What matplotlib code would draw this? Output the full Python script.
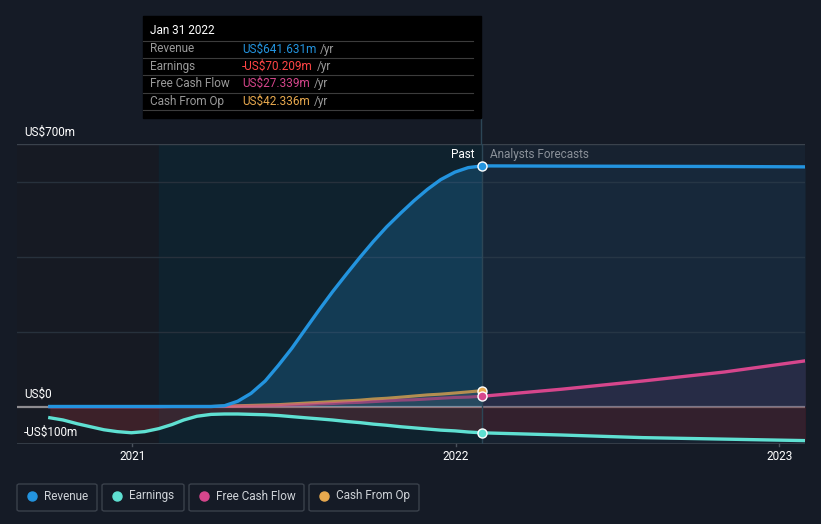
import numpy as np
import pandas as pd
import matplotlib.pyplot as plt
from matplotlib.patches import Rectangle, FancyBboxPatch

plt.rcParams['font.family'] = ['Roboto', 'DejaVu Sans']

# data (US$ millions)
past_dates = ['2020-09-30', '2020-10-15', '2020-10-31', '2020-11-15', '2020-11-30',
              '2020-12-15', '2020-12-31', '2021-01-15', '2021-01-31', '2021-02-15',
              '2021-02-28', '2021-03-15', '2021-03-31', '2021-04-15', '2021-04-30',
              '2021-05-15', '2021-05-31', '2021-06-15', '2021-06-30', '2021-07-15',
              '2021-07-31', '2021-08-15', '2021-08-31', '2021-09-15', '2021-09-30',
              '2021-10-15', '2021-10-31', '2021-11-15', '2021-11-30', '2021-12-15',
              '2021-12-31', '2022-01-15', '2022-01-31']
revenue_past = [0, 0, 0, 0, 0, 0, 0, 0, 0, 0, 0, 0, 0, 2, 14, 35, 68, 110, 155, 205,
                258, 306, 354, 398, 440, 479, 516, 549, 579, 605, 625, 637, 641.631]
earnings_past = [-30, -36, -46, -54, -62, -67, -70, -67, -59, -48, -36, -26, -21, -20, -20,
                 -21, -22, -24, -27, -30, -33, -36, -40, -43, -47, -50, -54, -57, -60,
                 -63, -65, -68, -70.209]
fcf_past = [-1, -1, -1, -1, -1, -1, -1, -1, -1, 0, 0, 0, 0, 0, 1, 1, 2, 3, 4, 5, 7, 8, 10,
            11, 13, 15, 17, 18, 20, 22, 24, 25, 27.339]
cfo_past = [0, 0, 0, 0, 0, 0, 0, 0, 0, 0, 0, 0, 0, 1, 2, 3, 4, 5, 7, 9, 11, 13, 15, 17,
            20, 22, 25, 28, 31, 33, 36, 39, 42.336]

fc_dates = ['2022-01-31', '2022-04-30', '2022-07-31', '2022-10-31', '2023-01-31']
revenue_fc = [641.631, 641, 640.5, 640, 639]
earnings_fc = [-70.209, -76, -83, -87, -91]
fcf_fc = [27.339, 46, 68, 92, 122]

year_ticks = ['2021-01-01', '2022-01-01', '2023-01-01']
year_labels = ['2021', '2022', '2023']
y_labels = {700: 'US$700m', 0: 'US$0', -100: '-US$100m'}

tooltip_date = 'Jan 31 2022'
tooltip_rows = [('Revenue', 'US$641.631m', '#2394df'),
                ('Earnings', '-US$70.209m', '#ff4545'),
                ('Free Cash Flow', 'US$27.339m', '#d6468c'),
                ('Cash From Op', 'US$42.336m', '#e8a94e')]

c_rev, c_earn, c_fcf, c_cfo = '#2394df', '#5fe0d2', '#d6468c', '#e8a94e'
bg = '#151b26'
W, H = 821, 524

pd_past = pd.to_datetime(past_dates)
pd_fc = pd.to_datetime(fc_dates)
now = pd_past[-1]
band_start = pd.Timestamp('2021-01-31')
x0, x1 = pd.Timestamp('2020-08-24'), pd.Timestamp('2023-01-30')

fig = plt.figure(figsize=(W / 100, H / 100), dpi=100, facecolor=bg)
ax = fig.add_axes([17 / W, 1 - 444 / H, (805 - 17) / W, 300 / H])
ax.set_facecolor(bg)
ax.set_xlim(x0, x1)
ax.set_ylim(-100, 700)
for s in ax.spines.values():
    s.set_visible(False)
ax.set_xticks([])
ax.set_yticks([])

# background regions
ax.axvspan(x0, band_start, color='#161a23', zorder=0)
ax.axvspan(band_start, now, color='#0f222e', zorder=0)
ax.axvspan(now, x1, color='#172230', zorder=0)

# grid
for v in [200, 400, 600]:
    ax.axhline(v, color='#27313c', lw=1, zorder=1)
ax.axhline(700, color='#3a424c', lw=1, zorder=1)
ax.axhline(-100, color='#3a424c', lw=1.2, zorder=1)
ax.axhline(0, color='#8e8c90', lw=1.6, zorder=2)

# fills
ax.fill_between(pd_past, revenue_past, 0, color=c_rev, alpha=0.22, lw=0, zorder=2)
ax.fill_between(pd_fc, revenue_fc, 0, color=c_rev, alpha=0.06, lw=0, zorder=2)
ax.fill_between(pd_past, earnings_past, 0, color='#a0343a', alpha=0.28, lw=0, zorder=2)
ax.fill_between(pd_fc, earnings_fc, 0, color='#6a1f2a', alpha=0.35, lw=0, zorder=2)
ax.fill_between(pd_past, cfo_past, 0, color='#9a9aa0', alpha=0.15, lw=0, zorder=2)
ax.fill_between(pd_fc, fcf_fc, 0, color='#5a3a6a', alpha=0.25, lw=0, zorder=2)

# lines
ax.plot(pd_past, cfo_past, color=c_cfo, lw=2.2, alpha=0.75, zorder=3)
ax.plot(pd_past, fcf_past, color=c_fcf, lw=2.2, alpha=0.6, zorder=3)
ax.plot(pd_fc, fcf_fc, color=c_fcf, lw=2.4, zorder=3)
ax.plot(pd_past, earnings_past, color=c_earn, lw=2.4, zorder=4)
ax.plot(pd_fc, earnings_fc, color=c_earn, lw=2.4, zorder=4)
ax.plot(pd_past, revenue_past, color=c_rev, lw=2.4, zorder=4)
ax.plot(pd_fc, revenue_fc, color=c_rev, lw=2.4, zorder=4)

# markers at the last reported point
for val, c in [(cfo_past[-1], c_cfo), (fcf_past[-1], c_fcf),
               (earnings_past[-1], c_earn), (revenue_past[-1], c_rev)]:
    ax.plot([now], [val], 'o', ms=6.5, mfc=c, mec='white', mew=1, zorder=6)

ax.axvline(now, color='#2c4656', lw=1, zorder=3)

# y labels inside plot
for v, t in y_labels.items():
    ax.text(pd.Timestamp('2020-09-01'), v + 14, t, color='white', fontsize=8.5, va='bottom',
            ha='left', zorder=7, clip_on=False)

ax.text(now - pd.Timedelta(days=9), 654, 'Past', color='white', fontsize=8.5, ha='right',
        va='bottom', zorder=7)
ax.text(now + pd.Timedelta(days=9), 654, 'Analysts Forecasts', color='#8a9099', fontsize=8.5,
        ha='left', va='bottom', zorder=7)

# x ticks
for d, lab in zip(year_ticks, year_labels):
    d = pd.Timestamp(d)
    ax.plot([d, d], [-100, -104], color='#4a525c', lw=1, clip_on=False)
    ax.text(d, -117, lab, color='white', fontsize=8.5, ha='center', va='top', clip_on=False)

def fx(x):
    return x / W

def fy(y):
    return 1 - y / H

# tooltip
fig.patches.append(Rectangle((fx(143), fy(118)), fx(481) - fx(143), fy(16) - fy(118),
                             transform=fig.transFigure, color='black', zorder=10))
fig.lines.append(plt.Line2D([fx(481), fx(481)], [fy(118), fy(144)], transform=fig.transFigure,
                            color='#2c4656', lw=1))
fig.text(fx(150), fy(31), tooltip_date, color='white', fontsize=8.5, va='center', zorder=11)
for i, (name, val, c) in enumerate(tooltip_rows):
    yy = 49 + i * 17.4
    fig.lines.append(plt.Line2D([fx(143), fx(473)], [fy(yy - 8.5), fy(yy - 8.5)],
                                transform=fig.transFigure, color='#3c3c3c', lw=0.8, zorder=11))
    fig.text(fx(150), fy(yy), name, color='#9a9a9a', fontsize=8.5, va='center', zorder=11)
    t = fig.text(fx(242), fy(yy), val, color=c, fontsize=8.5, va='center', zorder=11)
    fig.canvas.draw()
    bb = t.get_window_extent()
    fig.text(bb.x1 / W + fx(4), fy(yy), '/yr', color='#9a9a9a', fontsize=8.5, va='center', zorder=11)
fig.lines.append(plt.Line2D([fx(143), fx(473)], [fy(110), fy(110)], transform=fig.transFigure,
                            color='#3c3c3c', lw=0.8, zorder=11))

# legend boxes
legend_items = [('Revenue', c_rev, 17, 97), ('Earnings', c_earn, 102, 184),
                ('Free Cash Flow', c_fcf, 189, 304), ('Cash From Op', c_cfo, 309, 419)]
for name, c, lx, rx in legend_items:
    fig.patches.append(FancyBboxPatch((fx(lx), fy(511)), fx(rx) - fx(lx), fy(484) - fy(511),
                                      boxstyle='round,pad=0,rounding_size=0.003',
                                      transform=fig.transFigure, fc='none', ec='#3a414b', lw=1))
    fig.lines.append(plt.Line2D([fx(lx + 15)], [fy(496)], transform=fig.transFigure, marker='o',
                                ms=6.5, mfc=c, mec=c))
    fig.text(fx(lx + 27), fy(496), name, color='#cfd3d8', fontsize=8.5, va='center')

fig.savefig('out.png', dpi=100, facecolor=bg)
